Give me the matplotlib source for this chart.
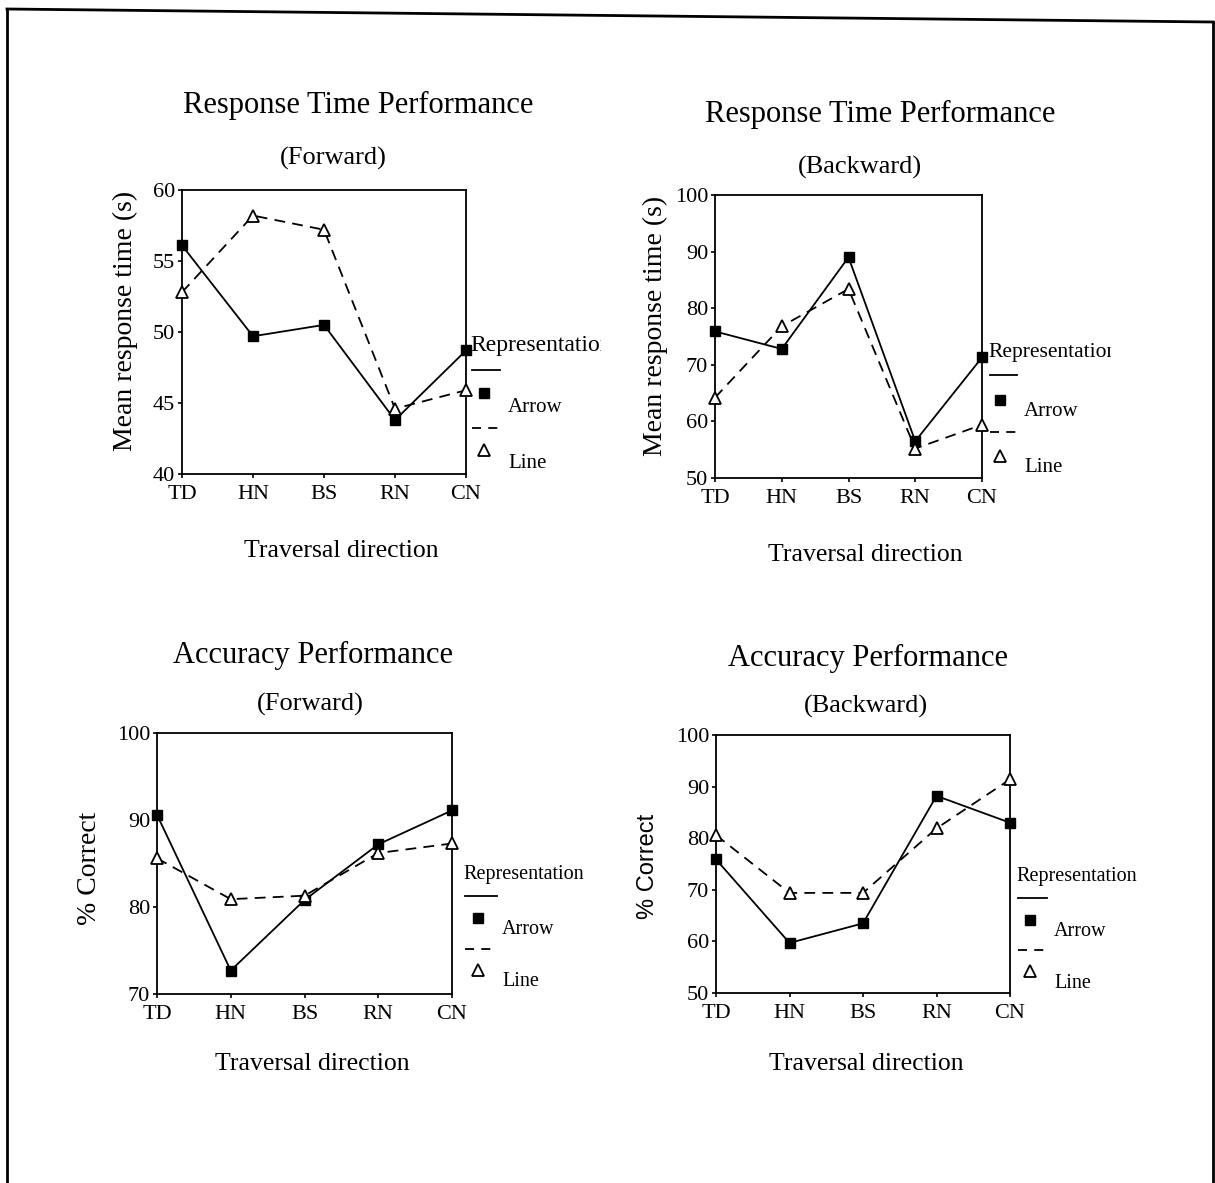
import matplotlib
matplotlib.use("Agg")
import matplotlib.pyplot as plt
from matplotlib.lines import Line2D
from matplotlib.transforms import Bbox, TransformedBbox

plt.rcParams['font.family'] = ['Liberation Serif', 'DejaVu Serif']

W, H = 1215, 1183

categories = ["TD", "HN", "BS", "RN", "CN"]

rt_fwd_arrow = [56.1, 49.7, 50.5, 43.8, 48.7]
rt_fwd_line = [52.8, 58.2, 57.2, 44.6, 45.9]
rt_bwd_arrow = [75.9, 72.8, 89.0, 56.5, 71.3]
rt_bwd_line = [64.2, 76.8, 83.4, 55.2, 59.4]
acc_fwd_arrow = [90.6, 72.7, 80.8, 87.2, 91.1]
acc_fwd_line = [85.6, 80.9, 81.3, 86.2, 87.3]
acc_bwd_arrow = [75.9, 59.7, 63.5, 88.2, 83.0]
acc_bwd_line = [80.6, 69.4, 69.4, 81.9, 91.4]

rt_fwd_ticks = [40, 45, 50, 55, 60]
rt_bwd_ticks = [50, 60, 70, 80, 90, 100]
acc_fwd_ticks = [70, 80, 90, 100]
acc_bwd_ticks = [50, 60, 70, 80, 90, 100]

legend_title = "Representation"
series_names = ["Arrow", "Line"]

fig = plt.figure(figsize=(W / 100, H / 100), dpi=100)


def fx(x):
    return x / W


def fy(y):
    return 1 - y / H


def add_axes(l, t, r, b):
    return fig.add_axes([fx(l), fy(b), fx(r - l), (b - t) / H])


panels = [
    dict(box=(182, 190, 466, 474), arrow=rt_fwd_arrow, line=rt_fwd_line, ticks=rt_fwd_ticks,
         title="Response Time Performance", sub="(Forward)", ylab="Mean response time (s)",
         yfam=['Liberation Serif'], ysize=20,
         tpos=(358, 105), spos=(333, 158), xpos=(341, 551), ypos=(125, 321),
         leg=dict(tx=470, ty=346, tsize=17, clip=601, lx0=472, lx1=500, ly=370, mx=484, my=393,
                  ax_=508, ay=407, dy=428, ty2=450, ly2=463, fs=15)),
    dict(box=(715, 195, 982, 478), arrow=rt_bwd_arrow, line=rt_bwd_line, ticks=rt_bwd_ticks,
         title="Response Time Performance", sub="(Backward)", ylab="Mean response time (s)",
         yfam=['Liberation Serif'], ysize=20,
         tpos=(880, 114), spos=(860, 167), xpos=(865, 555), ypos=(655, 326),
         leg=dict(tx=988, ty=353, tsize=15.5, clip=1111, lx0=990, lx1=1017, ly=375, mx=1000, my=400,
                  ax_=1024, ay=412, dy=432, ty2=456, ly2=468, fs=15)),
    dict(box=(157, 733, 452, 994), arrow=acc_fwd_arrow, line=acc_fwd_line, ticks=acc_fwd_ticks,
         title="Accuracy Performance", sub="(Forward)", ylab="% Correct",
         yfam=['Liberation Serif'], ysize=20,
         tpos=(313, 655), spos=(310, 704), xpos=(312, 1064), ypos=(90, 868),
         leg=dict(tx=463, ty=875, tsize=14.5, clip=None, lx0=465, lx1=497, ly=896, mx=478, my=918,
                  ax_=502, ay=930, dy=949, ty2=970, ly2=982, fs=14.5)),
    dict(box=(716, 735, 1010, 993), arrow=acc_bwd_arrow, line=acc_bwd_line, ticks=acc_bwd_ticks,
         title="Accuracy Performance", sub="(Backward)", ylab="% Correct",
         yfam=['Liberation Sans'], ysize=17,
         tpos=(868, 658), spos=(866, 706), xpos=(866, 1064), ypos=(648, 866),
         leg=dict(tx=1016, ty=876, tsize=14.5, clip=None, lx0=1018, lx1=1047, ly=898, mx=1030, my=920,
                  ax_=1054, ay=931, dy=950, ty2=971, ly2=983, fs=14.5)),
]

for p in panels:
    l, t, r, b = p["box"]
    ax = add_axes(l, t, r, b)
    x = list(range(len(categories)))
    ax.plot(x, p["arrow"], color="black", lw=1.3, ls="-", marker="s", ms=7.5,
            mfc="black", mec="black", clip_on=False, zorder=3)
    ax.plot(x, p["line"], color="black", lw=1.3, ls=(0, (6, 4)), marker="^", ms=8,
            mfc="white", mec="black", mew=1.3, clip_on=False, zorder=3)
    ax.set_xlim(0, len(categories) - 1)
    ax.set_ylim(min(p["ticks"]), max(p["ticks"]))
    ax.set_xticks(x)
    ax.set_xticklabels(categories, fontsize=16)
    ax.set_yticks(p["ticks"])
    ax.set_yticklabels([str(v) for v in p["ticks"]], fontsize=16)
    ax.tick_params(direction="out", length=3, width=1.2)
    ax.tick_params(axis="x", pad=5)
    ax.tick_params(axis="y", pad=2)
    for s in ax.spines.values():
        s.set_linewidth(1.3)
    fig.text(fx(p["tpos"][0]), fy(p["tpos"][1]), p["title"], fontsize=22, ha="center", va="center")
    fig.text(fx(p["spos"][0]), fy(p["spos"][1]), p["sub"], fontsize=19, ha="center", va="center")
    fig.text(fx(p["xpos"][0]), fy(p["xpos"][1]), "Traversal direction", fontsize=18.5,
             ha="center", va="center")
    fig.text(fx(p["ypos"][0]), fy(p["ypos"][1]), p["ylab"], fontsize=p["ysize"], ha="center",
             va="center", rotation=90, family=p["yfam"] + ['DejaVu Sans'])

    g = p["leg"]
    tt = fig.text(fx(g["tx"]), fy(g["ty"]), legend_title, fontsize=g["tsize"], ha="left", va="center")
    if g["clip"] is not None:
        bb = TransformedBbox(Bbox([[0, 0], [fx(g["clip"]), 1]]), fig.transFigure)
        tt.set_clip_box(bb)
        tt.set_clip_on(True)
    fig.add_artist(Line2D([fx(g["lx0"]), fx(g["lx1"])], [fy(g["ly"]), fy(g["ly"])],
                          transform=fig.transFigure, color="black", lw=1.3))
    fig.add_artist(Line2D([fx(g["mx"])], [fy(g["my"])], transform=fig.transFigure, ls="none",
                          marker="s", ms=7, mfc="black", mec="black"))
    fig.text(fx(g["ax_"]), fy(g["ay"]), series_names[0], fontsize=g["fs"], ha="left", va="center")
    fig.add_artist(Line2D([fx(g["lx0"]), fx(g["lx1"])], [fy(g["dy"]), fy(g["dy"])],
                          transform=fig.transFigure, color="black", lw=1.3, ls=(0, (5, 4))))
    fig.add_artist(Line2D([fx(g["mx"])], [fy(g["ty2"])], transform=fig.transFigure, ls="none",
                          marker="^", ms=8, mfc="white", mec="black", mew=1.3))
    fig.text(fx(g["ax_"]), fy(g["ly2"]), series_names[1], fontsize=g["fs"], ha="left", va="center")

# page border (top, left, right)
fig.add_artist(Line2D([fx(7), fx(1213)], [fy(9), fy(22)], transform=fig.transFigure,
                      color="black", lw=2))
fig.add_artist(Line2D([fx(7), fx(7)], [fy(9), fy(1183)], transform=fig.transFigure,
                      color="black", lw=2))
fig.add_artist(Line2D([fx(1213), fx(1213)], [fy(22), fy(1183)], transform=fig.transFigure,
                      color="black", lw=2))

fig.savefig("out.png", dpi=100)
